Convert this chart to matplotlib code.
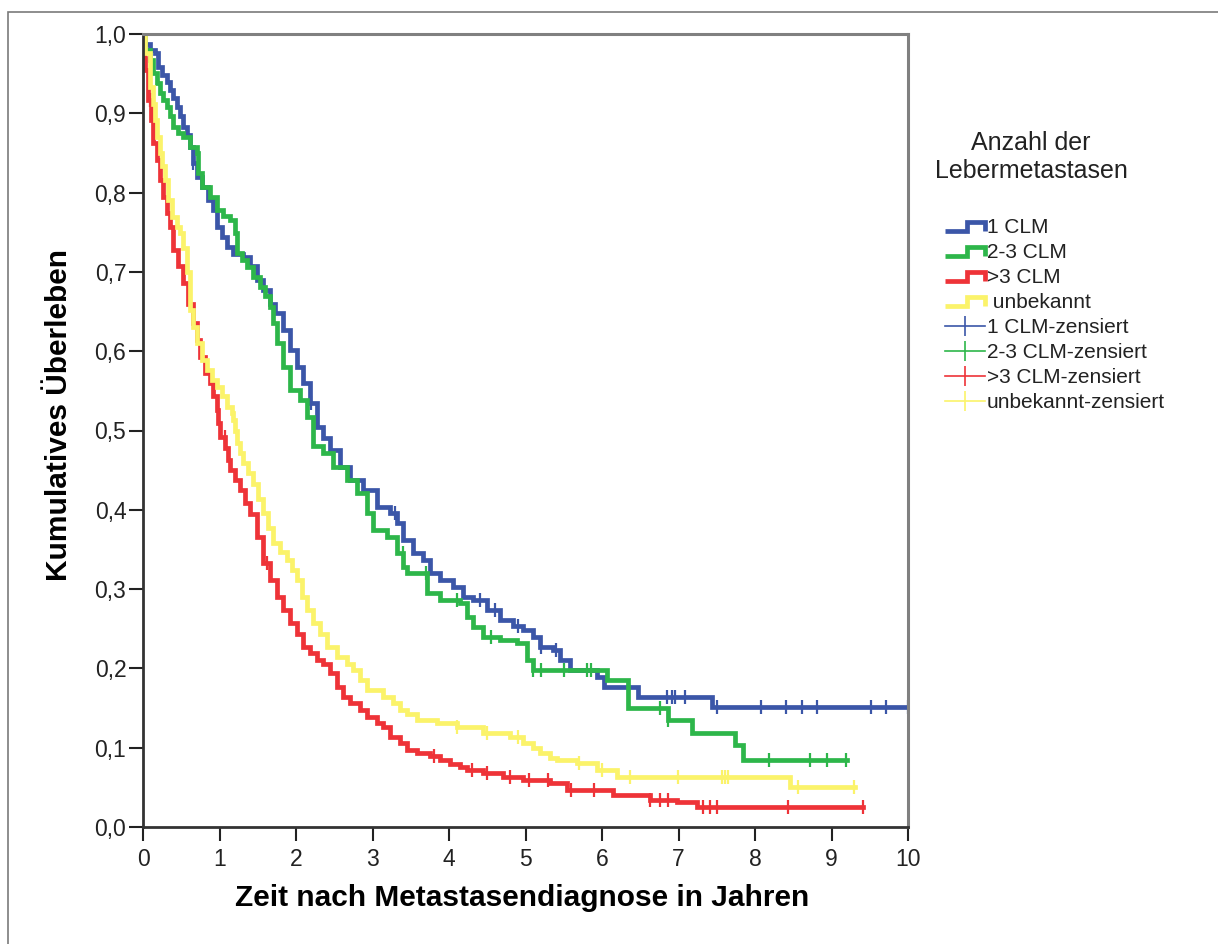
import numpy as np
import matplotlib
matplotlib.use("Agg")
import matplotlib.pyplot as plt
from matplotlib.lines import Line2D
from matplotlib.patches import Rectangle
from matplotlib.legend_handler import HandlerBase
from matplotlib.ticker import FuncFormatter

plt.rcParams["font.family"] = ["Liberation Sans", "DejaVu Sans"]

# Kaplan-Meier steps: time in years, cumulative survival after each step
t_1clm = [0, 0.026, 0.092, 0.157, 0.200, 0.244, 0.309, 0.353, 0.397, 0.44,
          0.484, 0.527, 0.571, 0.614, 0.658, 0.701, 0.767, 0.854, 0.919, 0.963,
          1.028, 1.094, 1.181, 1.311, 1.399, 1.486, 1.573, 1.660, 1.725, 1.834,
          1.922, 2.009, 2.096, 2.183, 2.27, 2.357, 2.444, 2.575, 2.706, 2.88,
          3.054, 3.229, 3.316, 3.403, 3.533, 3.664, 3.752, 3.882, 4.056, 4.187,
          4.318, 4.493, 4.667, 4.84, 4.97, 5.10, 5.19, 5.36, 5.45, 5.58, 5.93,
          6.02, 6.47, 7.44, 10.0]
s_1clm = [1.0, 0.988, 0.980, 0.976, 0.959, 0.948, 0.940, 0.929, 0.919, 0.908,
          0.896, 0.883, 0.873, 0.858, 0.837, 0.820, 0.807, 0.791, 0.778, 0.757,
          0.744, 0.732, 0.723, 0.719, 0.707, 0.690, 0.677, 0.660, 0.648, 0.627,
          0.602, 0.580, 0.560, 0.535, 0.505, 0.490, 0.475, 0.454, 0.438, 0.425,
          0.404, 0.396, 0.383, 0.362, 0.345, 0.337, 0.320, 0.311, 0.303, 0.290,
          0.286, 0.274, 0.261, 0.253, 0.248, 0.240, 0.227, 0.223, 0.211, 0.198,
          0.189, 0.177, 0.164, 0.151, 0.151]

t_23clm = [0, 0.026, 0.09, 0.13, 0.18, 0.22, 0.266, 0.31, 0.353, 0.39, 0.462,
           0.52, 0.61, 0.70, 0.72, 0.77, 0.88, 0.97, 1.05, 1.14, 1.20, 1.23,
           1.29, 1.36, 1.44, 1.53, 1.595, 1.66, 1.70, 1.75, 1.83, 1.92, 2.05,
           2.14, 2.227, 2.357, 2.488, 2.662, 2.793, 2.924, 3.01, 3.185, 3.316,
           3.403, 3.447, 3.62, 3.708, 3.882, 4.144, 4.23, 4.32, 4.45, 4.67,
           4.89, 5.02, 5.10, 6.06, 6.34, 6.86, 7.18, 7.74, 7.84, 9.20]
s_23clm = [1.0, 0.980, 0.967, 0.951, 0.938, 0.926, 0.917, 0.908, 0.896, 0.883,
           0.875, 0.870, 0.858, 0.850, 0.825, 0.807, 0.795, 0.778, 0.770, 0.765,
           0.749, 0.724, 0.715, 0.706, 0.694, 0.681, 0.669, 0.656, 0.636, 0.610,
           0.580, 0.551, 0.538, 0.517, 0.480, 0.471, 0.454, 0.438, 0.421, 0.396,
           0.375, 0.366, 0.345, 0.328, 0.320, 0.320, 0.295, 0.286, 0.282, 0.265,
           0.252, 0.240, 0.236, 0.232, 0.211, 0.198, 0.185, 0.150, 0.135, 0.118,
           0.103, 0.084, 0.084]

t_3clm = [0, 0.01, 0.03, 0.07, 0.10, 0.135, 0.18, 0.22, 0.266, 0.31, 0.353,
          0.397, 0.462, 0.527, 0.593, 0.658, 0.701, 0.745, 0.810, 0.876, 0.919,
          0.963, 0.985, 1.007, 1.072, 1.115, 1.137, 1.203, 1.268, 1.333, 1.399,
          1.486, 1.573, 1.660, 1.747, 1.834, 1.922, 2.009, 2.096, 2.183, 2.270,
          2.357, 2.444, 2.532, 2.619, 2.706, 2.837, 2.924, 3.054, 3.141, 3.229,
          3.359, 3.447, 3.577, 3.752, 3.882, 4.013, 4.144, 4.231, 4.449, 4.710,
          4.972, 5.320, 5.538, 6.14, 6.63, 6.98, 7.24, 9.41]
s_3clm = [1.0, 0.970, 0.955, 0.917, 0.891, 0.862, 0.841, 0.816, 0.795, 0.774,
          0.757, 0.728, 0.707, 0.686, 0.660, 0.635, 0.614, 0.593, 0.572, 0.560,
          0.543, 0.526, 0.509, 0.492, 0.478, 0.463, 0.450, 0.438, 0.425, 0.408,
          0.395, 0.366, 0.333, 0.311, 0.290, 0.274, 0.257, 0.244, 0.227, 0.219,
          0.211, 0.206, 0.194, 0.177, 0.164, 0.156, 0.148, 0.139, 0.131, 0.126,
          0.114, 0.106, 0.097, 0.093, 0.089, 0.084, 0.080, 0.076, 0.072, 0.068,
          0.063, 0.059, 0.055, 0.047, 0.040, 0.034, 0.032, 0.025, 0.025]

t_unb = [0, 0.02, 0.09, 0.126, 0.16, 0.188, 0.22, 0.253, 0.29, 0.331, 0.38,
         0.44, 0.48, 0.527, 0.571, 0.614, 0.658, 0.701, 0.767, 0.832, 0.898,
         0.963, 1.028, 1.094, 1.159, 1.181, 1.203, 1.224, 1.268, 1.311, 1.377,
         1.442, 1.507, 1.573, 1.638, 1.703, 1.791, 1.878, 1.943, 2.009, 2.074,
         2.140, 2.227, 2.314, 2.401, 2.532, 2.662, 2.749, 2.837, 2.924, 3.141,
         3.272, 3.359, 3.447, 3.577, 3.84, 4.10, 4.449, 4.80, 4.97, 5.10, 5.19,
         5.32, 5.41, 5.67, 5.93, 6.19, 8.46, 9.31]
s_unb = [1.0, 0.976, 0.933, 0.912, 0.891, 0.870, 0.850, 0.833, 0.816, 0.791,
         0.769, 0.757, 0.749, 0.730, 0.700, 0.652, 0.631, 0.610, 0.589, 0.576,
         0.564, 0.555, 0.543, 0.530, 0.522, 0.513, 0.499, 0.484, 0.471, 0.459,
         0.446, 0.433, 0.414, 0.396, 0.377, 0.358, 0.347, 0.337, 0.324, 0.311,
         0.290, 0.274, 0.257, 0.244, 0.227, 0.215, 0.206, 0.198, 0.185, 0.173,
         0.164, 0.156, 0.148, 0.143, 0.135, 0.131, 0.126, 0.118, 0.113, 0.106,
         0.099, 0.093, 0.087, 0.084, 0.081, 0.072, 0.063, 0.050, 0.050]

# censored observations (years)
c_1clm = [0.66, 2.2, 3.3, 4.4, 4.6, 4.9, 5.2, 5.4, 6.85, 6.91, 6.95, 7.08,
          7.5, 8.08, 8.41, 8.61, 8.81, 9.51, 9.71, 10.0]
c_23clm = [3.4, 3.7, 4.1, 4.55, 5.1, 5.2, 5.5, 5.8, 5.85, 6.76, 6.86, 8.18,
           8.72, 8.94, 9.19]
c_3clm = [0.09, 1.07, 1.62, 3.8, 4.3, 4.5, 4.8, 5.05, 5.3, 5.6, 5.9, 6.63,
          6.76, 6.86, 7.32, 7.41, 7.50, 8.43, 9.41]
c_unb = [4.1, 4.5, 4.9, 5.7, 6.0, 6.37, 6.99, 7.57, 7.61, 7.65, 8.56, 9.3]

labels = ["1 CLM", "2-3 CLM", ">3 CLM", " unbekannt"]
cens_labels = ["1 CLM-zensiert", "2-3 CLM-zensiert", ">3 CLM-zensiert",
               "unbekannt-zensiert"]
colors = ["#3b56a8", "#2db64a", "#ee3338", "#fbf36a"]

x_ticks = list(range(0, 11))
y_ticks = [0.0, 0.1, 0.2, 0.3, 0.4, 0.5, 0.6, 0.7, 0.8, 0.9, 1.0]


def step_value(times, surv, tc):
    idx = np.searchsorted(times, tc, side="right") - 1
    return np.asarray(surv)[idx]


class StepHandler(HandlerBase):
    # legend key drawn as a small step
    def create_artists(self, legend, orig_handle, xdescent, ydescent,
                       width, height, fontsize, trans):
        x0, y0 = -xdescent, -ydescent
        xm = x0 + 0.55 * width
        lo, hi = y0 + 0.15 * height, y0 + 0.75 * height
        line = Line2D([x0, xm, xm, x0 + width, x0 + width],
                      [lo, lo, hi, hi, lo],
                      color=orig_handle.get_color(),
                      lw=orig_handle.get_linewidth(),
                      solid_joinstyle="miter", solid_capstyle="butt")
        line.set_transform(trans)
        return [line]


fig = plt.figure(figsize=(12.18, 9.44), dpi=100)
ax = fig.add_axes([143 / 1218, 1 - 827 / 944, 765 / 1218, 793 / 944])

series = [(t_1clm, s_1clm, c_1clm), (t_23clm, s_23clm, c_23clm),
          (t_3clm, s_3clm, c_3clm), (t_unb, s_unb, c_unb)]

step_handles = []
cens_handles = []
for (tt, ss, cc), lab, col in zip(series, labels, colors):
    ln, = ax.plot(tt, ss, drawstyle="steps-post", color=col, lw=3.4,
                  solid_joinstyle="miter", label=lab)
    step_handles.append(ln)
for (tt, ss, cc), lab, col in zip(series, cens_labels, colors):
    ax.plot(cc, step_value(tt, ss, cc), ls="none", marker="|",
            markersize=10, mew=1.6, color=col)
    cens_handles.append(Line2D([], [], color=col, lw=1.2, marker="|",
                               markersize=14, mew=1.2))

ax.set_xlim(0, 10)
ax.set_ylim(0, 1)
ax.set_xticks(x_ticks)
ax.set_yticks(y_ticks)
ax.yaxis.set_major_formatter(FuncFormatter(lambda v, p: f"{v:.1f}".replace(".", ",")))
ax.tick_params(axis="both", direction="out", length=10, width=1.5,
               color="#222222", labelsize=16.5, labelcolor="#222222")
ax.tick_params(axis="y", pad=2)
ax.tick_params(axis="x", pad=5)

for side in ("top", "right"):
    ax.spines[side].set_color("#808080")
    ax.spines[side].set_linewidth(2.2)
for side in ("left", "bottom"):
    ax.spines[side].set_color("#333333")
    ax.spines[side].set_linewidth(2.0)

ax.set_xlabel("Zeit nach Metastasendiagnose in Jahren", fontsize=21.5,
              fontweight="bold")
ax.set_ylabel("Kumulatives Überleben", fontsize=21.5, fontweight="bold")
ax.xaxis.set_label_coords(0.495, -0.072)
ax.yaxis.set_label_coords(-0.092, 0.52)

# legend with title placed above it
fig.text(1031 / 1218, 1 - 157 / 944, "Anzahl der\nLebermetastasen",
         ha="center", va="center", multialignment="center", fontsize=18,
         color="#222222", linespacing=1.2)
handler_map = {h: StepHandler() for h in step_handles}
leg = fig.legend(step_handles + cens_handles, labels + cens_labels,
                 loc="upper left", bbox_to_anchor=(945 / 1218, 1 - 218 / 944),
                 frameon=False, fontsize=15, handlelength=1.9,
                 handletextpad=0.1, labelspacing=0.29, numpoints=1,
                 borderpad=0, borderaxespad=0, handler_map=handler_map)
for txt in leg.get_texts():
    txt.set_color("#222222")

# outer frame around the figure
fig.add_artist(Rectangle((8 / 1218, -0.05), 1.1, 1.05 - 12 / 944,
                         transform=fig.transFigure, fill=False,
                         edgecolor="#7a7a7a", lw=1.2, clip_on=False))

fig.savefig("out.png", dpi=100)
